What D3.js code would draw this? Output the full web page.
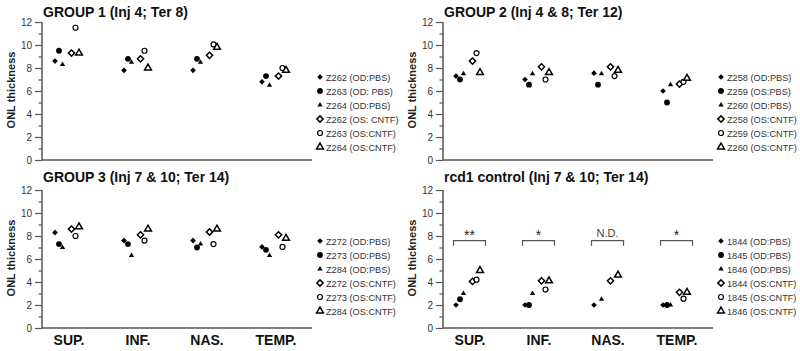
<!DOCTYPE html>
<html><head><meta charset="utf-8">
<script src="https://cdn.jsdelivr.net/npm/d3@7"></script>
<style>body{margin:0;background:#fff}svg{display:block}text{font-family:"Liberation Sans",Arial,sans-serif}</style>
</head><body><svg id="c" width="800" height="351"></svg>
<script>
const categories = ["SUP.", "INF.", "NAS.", "TEMP."];
const yTicks = [0, 2, 4, 6, 8, 10, 12];

const titles = ["GROUP 1 (Inj 4; Ter 8)", "GROUP 2 (Inj 4 & 8; Ter 12)", "GROUP 3 (Inj 7 & 10; Ter 14)", "rcd1 control (Inj 7 & 10; Ter 14)"];

const legend1 = ["Z262 (OD:PBS)", "Z263 (OD: PBS)", "Z264 (OD:PBS)", "Z262 (OS: CNTF)", "Z263 (OS:CNTF)", "Z264 (OS:CNTF)"];
const legend2 = ["Z258 (OD:PBS)", "Z259 (OS:PBS)", "Z260 (OD:PBS)", "Z258 (OS:CNTF)", "Z259 (OS:CNTF)", "Z260 (OS:CNTF)"];
const legend3 = ["Z272 (OD:PBS)", "Z273 (OD:PBS)", "Z284 (OD:PBS)", "Z272 (OS:CNTF)", "Z273 (OS:CNTF)", "Z284 (OS:CNTF)"];
const legend4 = ["1844 (OD:PBS)", "1845 (OD:PBS)", "1846 (OD:PBS)", "1844 (OS:CNTF)", "1845 (OS:CNTF)", "1846 (OS:CNTF)"];

// values per series, one per category (SUP, INF, NAS, TEMP)
const group1 = [
  [8.6, 7.8, 7.8, 6.8],
  [9.5, 8.8, 8.8, 7.3],
  [8.3, 8.5, 8.5, 6.5],
  [9.3, 8.8, 9.1, 7.3],
  [11.5, 9.5, 10.05, 8.0],
  [9.3, 8.0, 9.8, 7.8]
];
const group2 = [
  [7.3, 7.0, 7.55, 6.0],
  [7.0, 6.55, 6.55, 5.0],
  [7.5, 7.5, 7.5, 6.55],
  [8.6, 8.1, 8.1, 6.6],
  [9.3, 7.0, 7.3, 6.8],
  [7.6, 7.6, 7.8, 7.1]
];
const group3 = [
  [8.3, 7.6, 7.6, 7.05],
  [7.3, 7.3, 7.0, 6.8],
  [7.0, 6.3, 7.3, 6.3],
  [8.6, 8.1, 8.35, 8.1],
  [8.0, 7.6, 7.3, 7.05],
  [8.8, 8.6, 8.6, 7.8]
];
const control = [
  [2.0, 2.0, 2.0, 2.0],
  [2.5, 2.0, null, 2.0],
  [3.0, 3.0, 2.5, 2.0],
  [4.05, 4.1, 4.1, 3.1],
  [4.2, 3.35, null, 2.55],
  [5.0, 4.1, 4.6, 3.1]
];
const signif = ["**", "*", "N.D.", "*"];
const bracketTop = 7.6, bracketEnd = 7.15, signifY = 7.95;

const panels = [
  {title: titles[0], data: group1, legend: legend1, x: 42, y: 22, ty: -5, ly: 55},
  {title: titles[1], data: group2, legend: legend2, x: 443, y: 22, ty: -5, ly: 55},
  {title: titles[2], data: group3, legend: legend3, x: 42, y: 190, ty: -8, ly: 51},
  {title: titles[3], data: control, legend: legend4, x: 443, y: 190, ty: -8, ly: 51, sig: true}
];

const svg = d3.select("#c");
const W = 270, H = 138;
const seriesIdx = d3.range(6);
const offset = d3.scaleOrdinal().domain(seriesIdx).range([-12, -8, -4.5, 4.5, 8.5, 12]);
const axisCol = "#555", textCol = "#333";

function drawSymbol(g, i, cx, cy) {
  if (i === 0) g.append("rect").attr("x", -2).attr("y", -2).attr("width", 4).attr("height", 4)
      .attr("transform", `translate(${cx},${cy}) rotate(45)`).attr("fill", "#000");
  else if (i === 1) g.append("circle").attr("cx", cx).attr("cy", cy).attr("r", 2.9).attr("fill", "#000");
  else if (i === 2) g.append("path").attr("d", d3.symbol(d3.symbolTriangle, 12)()).attr("transform", `translate(${cx},${cy})`).attr("fill", "#000");
  else if (i === 3) g.append("rect").attr("x", -2.2).attr("y", -2.2).attr("width", 4.4).attr("height", 4.4)
      .attr("transform", `translate(${cx},${cy}) rotate(45)`).attr("fill", "#fff").attr("stroke", "#000").attr("stroke-width", 1.5);
  else if (i === 4) g.append("circle").attr("cx", cx).attr("cy", cy).attr("r", 2.5).attr("fill", "#fff").attr("stroke", "#000").attr("stroke-width", 1.2);
  else g.append("path").attr("d", d3.symbol(d3.symbolTriangle, 20)()).attr("transform", `translate(${cx},${cy})`).attr("fill", "#fff").attr("stroke", "#000").attr("stroke-width", 1.5);
}

panels.forEach((p, pi) => {
  const g = svg.append("g").attr("transform", `translate(${p.x},${p.y})`);
  const y = d3.scaleLinear().domain([0, 12]).range([H, 0]);
  const x = d3.scalePoint().domain(categories).range([25, 232]);

  // title
  g.append("text").attr("x", 1).attr("y", p.ty).attr("font-weight", "bold").attr("font-size", 14).attr("fill", "#111").text(p.title);

  // y axis
  const ya = d3.axisLeft(y).tickValues(yTicks).tickSize(7).tickPadding(3).tickFormat(d3.format("d"));
  const yg = g.append("g").call(ya);
  yg.select(".domain").attr("stroke", axisCol).attr("stroke-width", 1.5).attr("d", `M0,0V${H}`);
  yg.selectAll(".tick line").attr("stroke", axisCol).attr("stroke-width", 1.2);
  yg.selectAll(".tick text").attr("font-size", 10).attr("fill", textCol).attr("font-family", '"Liberation Sans",Arial,sans-serif');
  const yMinor = d3.axisLeft(y).tickValues(d3.range(1, 12, 2)).tickSize(3.5).tickFormat("");
  const ym = g.append("g").call(yMinor);
  ym.select(".domain").remove();
  ym.selectAll(".tick line").attr("stroke", axisCol).attr("stroke-width", 1.2);

  // x axis line
  g.append("line").attr("x1", 0).attr("x2", W).attr("y1", H).attr("y2", H).attr("stroke", axisCol).attr("stroke-width", 1.5);

  // y label
  g.append("text").attr("transform", `translate(${-27},${H / 2 - 1}) rotate(-90)`).attr("text-anchor", "middle")
    .attr("font-weight", "bold").attr("font-size", 11).attr("fill", "#222").text("ONL thickness");

  // x category labels (bottom panels)
  if (pi >= 2) {
    categories.forEach(c => {
      g.append("text").attr("x", x(c) + 2).attr("y", H + 17).attr("text-anchor", "middle")
        .attr("font-weight", "bold").attr("font-size", 14).attr("fill", "#111").text(c);
    });
  }

  // points
  const pg = g.append("g");
  p.data.forEach((vals, si) => {
    vals.forEach((v, ci) => {
      if (v == null) return;
      drawSymbol(pg, si, x(categories[ci]) + offset(si), y(v));
    });
  });

  // significance brackets
  if (p.sig) {
    categories.forEach((c, ci) => {
      const cx = x(c) + 1.5;
      g.append("path").attr("d", `M${cx - 16},${y(bracketEnd)}V${y(bracketTop)}H${cx + 16}V${y(bracketEnd)}`)
        .attr("fill", "none").attr("stroke", "#555").attr("stroke-width", 1.2);
      const s = signif[ci];
      const isND = s === "N.D.";
      g.append("text").attr("x", cx).attr("y", y(signifY) + (isND ? 0 : 3)).attr("text-anchor", "middle")
        .attr("font-size", isND ? 11 : 14).attr("font-weight", "normal").attr("fill", isND ? "#444" : "#222").text(s);
    });
  }

  // legend
  const lg = g.append("g").attr("transform", `translate(${W + 8},0)`);
  p.legend.forEach((t, i) => {
    const ly = p.ly + i * 14;
    drawSymbol(lg, i, 0, ly);
    lg.append("text").attr("x", 6).attr("y", ly + 3.5).attr("font-size", 9.2).attr("fill", textCol).text(t);
  });
});
</script></body></html>
